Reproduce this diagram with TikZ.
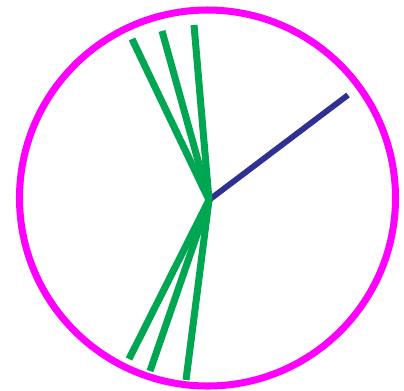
\documentclass[tikz,border=0pt]{standalone}
\usepackage{tikz}
\definecolor{rimpink}{RGB}{255,0,255}
\definecolor{rodgreen}{RGB}{0,166,81}
\definecolor{rodblue}{RGB}{46,49,146}
\tikzset{
  rim/.style={draw=rimpink, line width=4pt},
  greenrod/.style={draw=rodgreen, line width=4pt, line cap=butt},
  bluerod/.style={draw=rodblue, line width=3.3pt, line cap=butt},
}

\begin{document}
\begin{tikzpicture}[x=0.02cm, y=-0.02cm]
\useasboundingbox (0,0) rectangle (404,390);
\coordinate (hub) at (209,200);
\coordinate (ta) at (132,39);
\coordinate (tb) at (162,31);
\coordinate (tc) at (194,25);
\coordinate (ba) at (129,359);
\coordinate (bb) at (150,371);
\coordinate (bc) at (186,380);
\coordinate (tip) at (348,95);
\draw[rim] (207.5,198) circle (188);
\draw[bluerod] (hub) -- (tip);
\draw[greenrod] (ta) -- (hub);
\draw[greenrod] (tb) -- (hub);
\draw[greenrod] (tc) -- (hub);
\draw[greenrod] (ba) -- (hub);
\draw[greenrod] (bb) -- (hub);
\draw[greenrod] (bc) -- (hub);
\end{tikzpicture}
\end{document}
